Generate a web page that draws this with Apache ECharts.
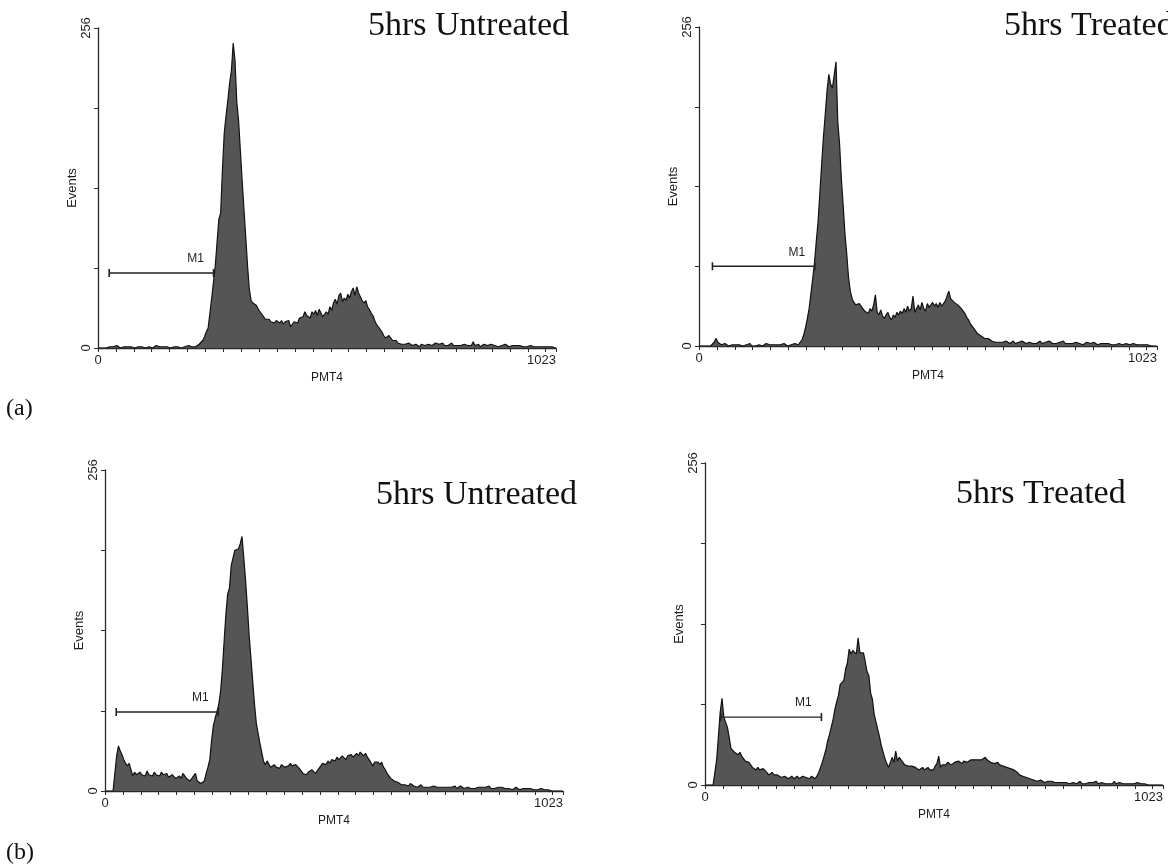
<!DOCTYPE html>
<html><head><meta charset="utf-8">
<script src="https://cdn.jsdelivr.net/npm/echarts@6/dist/echarts.min.js"></script>
<style>html,body{margin:0;padding:0;background:#fff}#c{width:1168px;height:864px}</style>
</head><body><div id="c"></div>
<script>
// Histogram counts per 4-channel bin (256 bins over channels 0..1023)
const untreatedA = [
0,0,0,0,0,0,1,2,1,1, 2,1,0,1,1,2,1,0,1,1, 0,1,1,2,1,1,0,1,1,1, 0,1,2,1,1,0,1,1,1,2,
0,1,1,2,1,1,0,1,1,1, 2,1,1,2,1,2,3,4,6,9, 13,16,28,40,53,66,85,103,108,143,
172,186,198,212,222,244,230,197,182,158, 134,111,89,66,47,38,36,35,34,31,
29,27,25,23,22,23,21,22,20,22, 21,20,22,19,21,20,22,17,19,21, 22,20,24,23,25,29,26,27,24,29,
27,30,26,31,28,25,26,29,27,33, 30,36,39,35,42,44,37,40,38,43, 40,45,48,42,49,44,41,38,36,38,
33,31,28,26,22,19,17,15,13,10, 8,7,10,8,6,5,6,4,5,3, 4,3,2,4,3,2,2,3,2,1,
3,2,2,1,3,2,2,3,4,5, 3,2,4,2,3,2,3,4,2,3, 2,3,2,1,3,2,2,3,2,5, 2,2,3,1,2,3,2,2,1,3,
2,2,3,1,2,2,1,3,2,1, 2,2,1,2,1,2,1,1,2,1, 1,2,1,1,2,1,1,1,2,1, 1,1,1,1,0,0];
const treatedA = [
0,0,0,0,0,0,0,0,3,6, 3,2,1,1,2,1,0,1,1,0, 1,0,1,1,0,0,1,1,2,0, 1,0,1,1,1,0,1,2,1,1,
0,1,1,1,0,1,1,2,1,0, 1,1,1,2,1,1,2,5,9,15, 22,30,42,54,67,84,100,123,146,168,
186,205,218,210,207,206,228,180,162,134, 113,90,74,55,44,38,35,33,32,34,
33,30,28,27,26,30,28,33,41,27, 25,29,24,22,25,27,23,21,25,23, 27,25,28,26,30,27,32,28,30,40,
27,30,33,29,35,30,28,34,31,30, 35,32,34,31,35,32,34,36,40,44, 38,37,35,36,33,32,30,28,26,23,
21,18,16,14,12,10,9,8,9,6, 5,6,5,4,5,3,4,3,4,3, 3,4,3,2,3,4,2,3,3,2,
4,3,2,3,3,4,2,3,2,3, 4,2,3,3,2,4,3,2,3,2, 3,3,2,4,2,3,2,3,2,2, 3,2,2,3,1,2,3,2,2,1,
3,2,1,2,2,1,2,1,2,1, 1,2,1,1,2,1,1,1,2,1, 1,1,2,1,1,1,1,2,1,1, 1,1,0,0,0,0];
const untreatedB = [
0,0,0,0,0,0,28,36,32,29, 25,22,20,22,17,12,15,13,14,15, 13,14,12,16,13,14,12,15,13,14,
12,15,13,12,14,11,11,13,12,10, 11,12,10,14,12,10,9,8,10,11, 14,8,7,6,7,8,14,19,25,40,
52,58,63,69,79,96,119,141,157,162, 180,186,192,193,193,197,203,186,168,147,
124,106,87,69,54,46,38,31,24,21, 24,23,19,20,21,19,20,18,21,20, 19,18,20,22,20,19,21,20,18,16,
14,15,13,15,14,17,16,14,15,18, 20,22,23,21,24,22,25,26,24,27, 25,26,28,27,25,28,27,29,27,26,
30,28,31,32,28,30,27,25,26,20, 23,22,23,21,23,19,17,14,12,10, 9,8,7,7,6,5,6,5,5,4,
6,5,4,5,3,4,5,3,4,3, 4,3,2,4,3,3,4,3,2,3, 4,3,2,3,3,4,2,3,4,3, 2,3,3,4,2,3,2,3,3,2,
3,2,3,2,4,2,3,2,2,3, 2,3,2,2,3,2,2,1,2,3, 2,1,2,2,1,2,1,2,2,1, 2,1,1,2,1,1,2,1,0,0,
0,0,0,0,0,0];
const treatedB = [
0,0,0,0,0,0,20,39,58,69, 54,50,46,38,29,30,26,27,24,26, 23,22,19,20,18,16,14,13,12,14,
12,11,13,12,10,8,9,10,8,7, 8,8,6,7,7,6,5,6,7,5, 6,7,5,6,7,8,6,6,5,7,
6,5,7,10,14,18,23,28,35,40, 46,52,60,66,71,80,80,83,92,97, 108,104,107,108,104,117,105,106,105,98,
90,87,73,68,56,50,44,38,31,26, 21,17,14,18,22,18,27,19,22,20, 18,16,17,15,16,15,14,14,13,12,
13,14,12,11,14,12,13,12,15,17, 23,14,16,15,16,18,17,16,17,18, 17,19,18,17,19,20,18,19,20,19,
20,19,20,21,20,21,22,20,19,18, 18,17,16,18,16,17,15,15,14,14, 13,12,12,11,10,8,7,7,7,6,
5,5,5,4,4,3,3,4,3,2, 3,3,2,3,2,2,3,2,2,2, 1,2,3,1,2,2,2,1,2,3, 1,2,1,1,2,1,2,1,3,1,
1,2,1,1,2,1,2,1,3,1, 1,2,1,1,2,1,1,1,2,1, 1,2,1,1,1,1,1,0,1,0, 1,0,0,0,0,0];

const panelTitles = ['5hrs Untreated', '5hrs Treated', '5hrs Untreated', '5hrs Treated'];
const rowLabels = ['(a)', '(b)'];
const xTickLabels = [0, 1023];
const yTickLabels = [0, 256];
const xAxisName = 'PMT4';
const yAxisName = 'Events';
const markerName = 'M1';
const m1Start = [25, 30, 25, 35];
const m1End = [258, 259, 253, 260];
const m1Level = [60, 64, 63, 54];
const binWidth = 4;

const histograms = [untreatedA, treatedA, untreatedB, treatedB];

// layout (pixels)
const grids = [
  {left: 98, top: 28, width: 458, height: 320},
  {left: 699, top: 27, width: 458, height: 319},
  {left: 105, top: 470, width: 458, height: 321},
  {left: 705, top: 463, width: 458, height: 322}
];
const titlePos = [[368, 9], [1004, 9], [376, 478], [956, 477]];
const rowLabelPos = [[6, 397], [6, 841]];

const axisColor = '#2a2a2a';
const textColor = '#1e1e1e';
const sans = '"Liberation Sans", Arial, sans-serif';
const serif = '"Liberation Serif", "Times New Roman", serif';

const option = {
  backgroundColor: '#ffffff',
  animation: false,
  title: panelTitles.map((t, k) => ({
    text: t, left: titlePos[k][0], top: titlePos[k][1], padding: 0,
    textStyle: {fontFamily: serif, fontSize: 34, fontWeight: 'normal', color: '#111'}
  })).concat(rowLabels.map((t, k) => ({
    text: t, left: rowLabelPos[k][0], top: rowLabelPos[k][1], padding: 0,
    textStyle: {fontFamily: serif, fontSize: 24, fontWeight: 'normal', color: '#111'}
  }))),
  grid: grids.map(g => Object.assign({outerBoundsMode: 'none', containLabel: false}, g)),
  xAxis: grids.map((g, k) => ({
    type: 'value', gridIndex: k, min: 0, max: 1023, interval: 40,
    axisLine: {show: true, onZero: false, lineStyle: {color: axisColor, width: 1.3}},
    axisTick: {show: true, length: 4, lineStyle: {color: axisColor, width: 1}},
    splitLine: {show: false},
    axisLabel: {
      show: true, margin: 6, fontSize: 13, fontFamily: sans, color: textColor,
      showMinLabel: true, showMaxLabel: true, alignMaxLabel: 'right',
      formatter: v => (xTickLabels.indexOf(v) >= 0 ? String(v) : '')
    },
    name: xAxisName, nameLocation: 'middle', nameGap: 24,
    nameTextStyle: {fontSize: 12, fontFamily: sans, color: textColor}
  })),
  yAxis: grids.map((g, k) => ({
    type: 'value', gridIndex: k, min: 0, max: 256, interval: 64,
    axisLine: {show: true, lineStyle: {color: axisColor, width: 1.3}},
    axisTick: {show: true, length: 4, lineStyle: {color: axisColor, width: 1}},
    splitLine: {show: false},
    axisLabel: {
      show: true, rotate: 90, margin: 5, fontSize: 13, fontFamily: sans, color: textColor,
      showMinLabel: true, showMaxLabel: true,
      formatter: v => (yTickLabels.indexOf(v) >= 0 ? String(v) : '')
    },
    name: yAxisName, nameLocation: 'middle', nameGap: 17,
    nameTextStyle: {fontSize: 13, fontFamily: sans, color: textColor}
  })),
  series: []
};

histograms.forEach((h, k) => {
  option.series.push({
    type: 'line', xAxisIndex: k, yAxisIndex: k,
    data: h.map((v, i) => [i * binWidth + binWidth / 2, v]),
    symbol: 'none', smooth: false,
    lineStyle: {color: '#111', width: 1.2},
    areaStyle: {color: '#555555', opacity: 1},
    z: 2
  });
  option.series.push({
    type: 'line', xAxisIndex: k, yAxisIndex: k,
    data: [
      [m1Start[k], m1Level[k]],
      {value: [m1End[k], m1Level[k]], label: {
        show: true, formatter: markerName, position: 'top', distance: 4, offset: [-18, 0],
        fontSize: 12, fontFamily: sans, color: textColor
      }}
    ],
    symbol: 'rect', symbolSize: [1.6, 8],
    itemStyle: {color: '#222'},
    lineStyle: {color: '#222', width: 1.4},
    z: 4
  });
});

const chart = echarts.init(document.getElementById('c'), null, {renderer: 'canvas'});
chart.setOption(option);
</script></body></html>
